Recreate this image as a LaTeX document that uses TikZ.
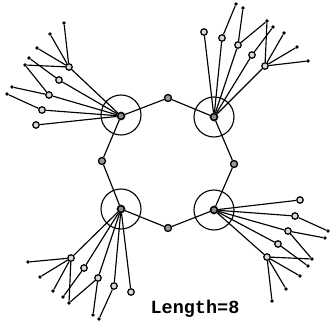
\documentclass[tikz,border=0pt]{standalone}
\usepackage{fontspec}
\setmonofont{Liberation Mono}
\usepackage{tikz}
\begin{document}
\begin{tikzpicture}[x=1pt,y=-1pt,
  hub/.style={draw,circle,line width=1.6pt,inner sep=0pt,minimum size=7pt,fill=black!45},
  ring/.style={draw,circle,line width=1.1pt,inner sep=0pt,minimum size=40pt},
  site/.style={draw,circle,line width=1.2pt,inner sep=0pt,minimum size=6.5pt,fill=black!15},
  mid/.style={draw,circle,line width=1.3pt,inner sep=0pt,minimum size=7pt,fill=black!40},
  tip/.style={fill,circle,inner sep=0pt,minimum size=3.6pt},
  arm/.style={line width=1.15pt}]
\useasboundingbox (0,0) rectangle (330,321);
% the ring of eight
\node[hub] (tl) at (121,116) {};
\node[hub] (tr) at (214,117) {};
\node[hub] (bl) at (121,209) {};
\node[hub] (br) at (214,210) {};
\node[ring] (rtl) at (121,115) {};
\node[ring] (rtr) at (214,117) {};
\node[ring] (rbl) at (121,209) {};
\node[ring] (rbr) at (214,210) {};
\node[mid] (top) at (168,98) {};
\node[mid] (lft) at (102,161) {};
\node[mid] (rgt) at (234,164) {};
\node[mid] (bot) at (168,228) {};
\draw[arm] (tl)--(top); \draw[arm] (top)--(tr); \draw[arm] (tr)--(rgt); \draw[arm] (rgt)--(br);
\draw[arm] (br)--(bot); \draw[arm] (bot)--(bl); \draw[arm] (bl)--(lft); \draw[arm] (lft)--(tl);
% top left
\node[site] (a0) at (69,67) {};
\node[site] (a1) at (59,80) {};
\node[site] (a2) at (49,95) {};
\node[site] (a3) at (42,110) {};
\node[site] (a4) at (36,125) {};
\node[tip] (a5) at (64,23) {};
\node[tip] (a6) at (50,34) {};
\node[tip] (a7) at (37,48) {};
\node[tip] (a8) at (25,65) {};
\node[tip] (a9) at (29,58) {};
\node[tip] (a10) at (12,87) {};
\node[tip] (a11) at (7,94) {};
\draw[arm] (tl)--(a0); \draw[arm] (tl)--(a1); \draw[arm] (tl)--(a2); \draw[arm] (tl)--(a3); \draw[arm] (tl)--(a4);
\draw[arm] (a0)--(a5); \draw[arm] (a0)--(a6); \draw[arm] (a0)--(a7); \draw[arm] (a0)--(a8);
\draw[arm] (a1)--(a9); \draw[arm] (a2)--(a8); \draw[arm] (a2)--(a10); \draw[arm] (a3)--(a11);
% top right
\node[site] (b0) at (265,66) {};
\node[site] (b1) at (252,55) {};
\node[site] (b2) at (238,45) {};
\node[site] (b3) at (222,38) {};
\node[site] (b4) at (204,32) {};
\node[tip] (b5) at (308,61) {};
\node[tip] (b6) at (297,47) {};
\node[tip] (b7) at (284,33) {};
\node[tip] (b8) at (267,21) {};
\node[tip] (b9) at (273,27) {};
\node[tip] (b10) at (243,8) {};
\node[tip] (b11) at (236,4) {};
\draw[arm] (tr)--(b0); \draw[arm] (tr)--(b1); \draw[arm] (tr)--(b2); \draw[arm] (tr)--(b3); \draw[arm] (tr)--(b4);
\draw[arm] (b0)--(b5); \draw[arm] (b0)--(b6); \draw[arm] (b0)--(b7); \draw[arm] (b0)--(b8);
\draw[arm] (b1)--(b9); \draw[arm] (b2)--(b8); \draw[arm] (b2)--(b10); \draw[arm] (b3)--(b11);
% bottom left
\node[site] (c0) at (71,258) {};
\node[site] (c1) at (84,268) {};
\node[site] (c2) at (98,278) {};
\node[site] (c3) at (114,286) {};
\node[site] (c4) at (131,292) {};
\node[tip] (c5) at (28,262) {};
\node[tip] (c6) at (40,277) {};
\node[tip] (c7) at (53,291) {};
\node[tip] (c8) at (69,303) {};
\node[tip] (c9) at (63,297) {};
\node[tip] (c10) at (93,315) {};
\node[tip] (c11) at (99,319) {};
\draw[arm] (bl)--(c0); \draw[arm] (bl)--(c1); \draw[arm] (bl)--(c2); \draw[arm] (bl)--(c3); \draw[arm] (bl)--(c4);
\draw[arm] (c0)--(c5); \draw[arm] (c0)--(c6); \draw[arm] (c0)--(c7); \draw[arm] (c0)--(c8);
\draw[arm] (c1)--(c9); \draw[arm] (c2)--(c8); \draw[arm] (c2)--(c10); \draw[arm] (c3)--(c11);
% bottom right
\node[site] (d0) at (267,257) {};
\node[site] (d1) at (278,244) {};
\node[site] (d2) at (288,231) {};
\node[site] (d3) at (295,216) {};
\node[site] (d4) at (300,200) {};
\node[tip] (d5) at (312,259) {};
\node[tip] (d6) at (300,276) {};
\node[tip] (d7) at (286,289) {};
\node[tip] (d8) at (272,301) {};
\node[tip] (d9) at (308,266) {};
\node[tip] (d10) at (325,238) {};
\node[tip] (d11) at (328,231) {};
\draw[arm] (br)--(d0); \draw[arm] (br)--(d1); \draw[arm] (br)--(d2); \draw[arm] (br)--(d3); \draw[arm] (br)--(d4);
\draw[arm] (d0)--(d5); \draw[arm] (d0)--(d6); \draw[arm] (d0)--(d7); \draw[arm] (d0)--(d8);
\draw[arm] (d1)--(d9); \draw[arm] (d2)--(d5); \draw[arm] (d2)--(d10); \draw[arm] (d3)--(d11);
\node[font=\fontsize{18.5}{18.5}\ttfamily\bfseries,inner sep=0pt,anchor=base] (len) at (195,313) {Length=8};
\end{tikzpicture}
\end{document}
